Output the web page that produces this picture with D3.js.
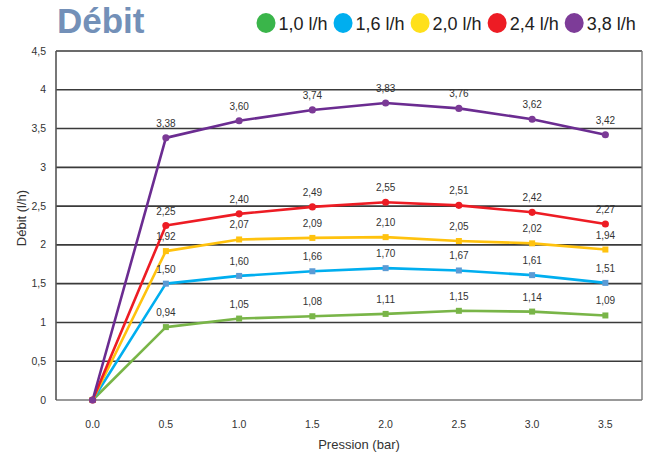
<!DOCTYPE html>
<html><head><meta charset="utf-8">
<script src="https://cdn.jsdelivr.net/npm/d3@7"></script>
<style>body{margin:0;background:#fff}svg{display:block}text{font-family:"Liberation Sans",Arial,sans-serif}</style>
</head><body><svg id="c" width="652" height="455"></svg>
<script>
const pressions = ["0.0","0.5","1.0","1.5","2.0","2.5","3.0","3.5"];
const yTicks = [0,0.5,1,1.5,2,2.5,3,3.5,4,4.5];
const seriesNames = ["1,0 l/h","1,6 l/h","2,0 l/h","2,4 l/h","3,8 l/h"];
const s10 = [0,0.94,1.05,1.08,1.11,1.15,1.14,1.09];
const s16 = [0,1.50,1.60,1.66,1.70,1.67,1.61,1.51];
const s20 = [0,1.92,2.07,2.09,2.10,2.05,2.02,1.94];
const s24 = [0,2.25,2.40,2.49,2.55,2.51,2.42,2.27];
const s38 = [0,3.38,3.60,3.74,3.83,3.76,3.62,3.42];

const lineColors = ["#79B548","#00AEEF","#FFC20E","#ED1C24","#6B2C91"];
const markColors = ["#79B548","#5B9BD5","#FFC20E","#ED1C24","#7B3A96"];
const legendColors = ["#3AB54A","#00AEEF","#FFE01B","#ED1C24","#7D3C98"];
const markShapes = [d3.symbolSquare,d3.symbolSquare,d3.symbolSquare,d3.symbolCircle,d3.symbolCircle];
const allSeries = [s10,s16,s20,s24,s38];

const svg = d3.select("#c");
const L=56,R=642,T=51,B=400;
const x = d3.scaleBand().domain(pressions).range([L,R]);
const y = d3.scaleLinear().domain([0,4.5]).range([B,T]);
const cx = d => x(d)+x.bandwidth()/2;
const fmt = v => v.toFixed(2).replace(".",",");
const yfmt = v => String(v).replace(".",",");

// gridlines
svg.append("g").selectAll("line").data(yTicks).join("line")
  .attr("x1",L).attr("x2",R).attr("y1",d=>y(d)).attr("y2",d=>y(d))
  .attr("stroke",d=>d===0?"#777":"#3a3a3a").attr("stroke-width",1.6);
// frame
svg.append("line").attr("x1",L).attr("x2",L).attr("y1",T).attr("y2",B).attr("stroke","#555").attr("stroke-width",1.6);
svg.append("line").attr("x1",R).attr("x2",R).attr("y1",T).attr("y2",B).attr("stroke","#777").attr("stroke-width",1.4);

// y axis labels
svg.append("g").selectAll("text").data(yTicks).join("text")
  .attr("x",L-10).attr("y",d=>y(d)+3.5).attr("text-anchor","end")
  .attr("font-size",10.5).attr("fill","#333").text(yfmt);
// x labels
svg.append("g").selectAll("text").data(pressions).join("text")
  .attr("x",d=>cx(d)).attr("y",428).attr("text-anchor","middle")
  .attr("font-size",10.5).attr("fill","#333").text(d=>d);

svg.append("text").attr("x",359).attr("y",449).attr("text-anchor","middle")
  .attr("font-size",13).attr("fill","#333").text("Pression (bar)");
svg.append("text").attr("transform","translate(26,218) rotate(-90)").attr("text-anchor","middle")
  .attr("font-size",13).attr("fill","#333").text("Débit (l/h)");

// lines
const line = d3.line().x((d,i)=>cx(pressions[i])).y(d=>y(d));
allSeries.forEach((s,k)=>{
  svg.append("path").datum(s).attr("d",line).attr("fill","none")
    .attr("stroke",lineColors[k]).attr("stroke-width",2.6).attr("stroke-linejoin","round");
});
allSeries.forEach((s,k)=>{
  const g = svg.append("g");
  g.selectAll("path").data(s).join("path")
    .attr("transform",(d,i)=>`translate(${cx(pressions[i])},${y(d)})`)
    .attr("d",d3.symbol().type(markShapes[k]).size(k<3?36:40))
    .attr("fill",markColors[k]);
  g.selectAll("text").data(s.slice(1)).join("text")
    .attr("x",(d,i)=>cx(pressions[i+1])).attr("y",d=>y(d)-11)
    .attr("text-anchor","middle").attr("font-size",10).attr("fill","#333").text(fmt);
});

// title
svg.append("text").attr("x",57).attr("y",33).attr("font-size",35).attr("font-weight","bold")
  .attr("fill","#7390B8").text("Débit");
// legend
let lx = 266;
const lg = svg.append("g");
seriesNames.forEach((n,k)=>{
  lg.append("ellipse").attr("cx",lx).attr("cy",23).attr("rx",9.5).attr("ry",10).attr("fill",legendColors[k]);
  const t = lg.append("text").attr("x",lx+12.5).attr("y",29.5).attr("font-size",18).attr("fill","#222").text(n);
  lx += 12.5 + t.node().getComputedTextLength() + 15.5;
});
</script></body></html>
